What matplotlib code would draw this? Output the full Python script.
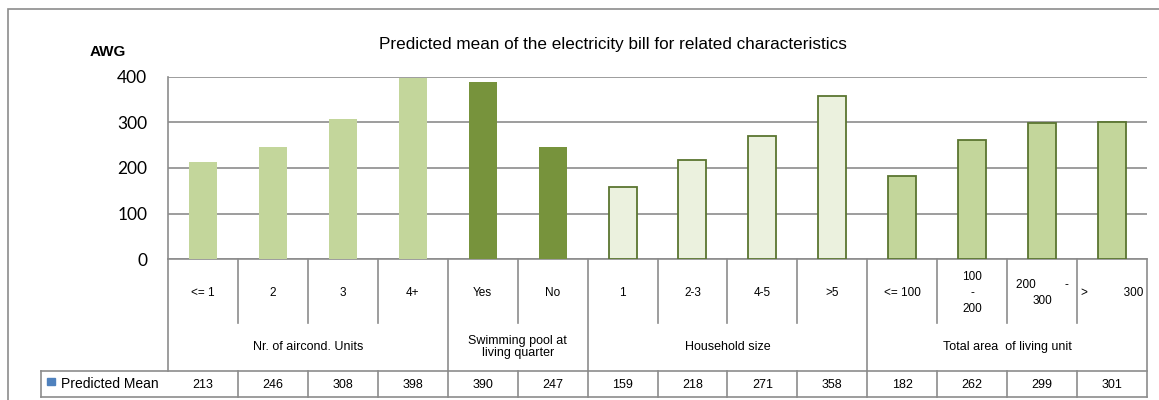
import numpy as np
import matplotlib.pyplot as plt
from matplotlib.transforms import blended_transform_factory
from matplotlib.patches import Rectangle

categories = ["<= 1", "2", "3", "4+", "Yes", "No", "1", "2-3", "4-5", ">5",
              "<= 100", "100\n-\n200", "200         -\n300", ">           300"]
predicted_mean = [213, 246, 308, 398, 390, 247, 159, 218, 271, 358, 182, 262, 299, 301]
groups = ["Nr. of aircond. Units", "Swimming pool at\nliving quarter",
          "Household size", "Total area  of living unit"]
group_sizes = [4, 2, 4, 4]
group_face = ["#C3D69B", "#77933C", "#EBF1DE", "#C3D69B"]
group_edge = ["none", "none", "#5A7530", "#5A7530"]

W, H = 1159, 400
fig = plt.figure(figsize=(W / 100, H / 100), dpi=100)
plt.rcParams['font.family'] = ['Liberation Sans', 'DejaVu Sans']

def fx(x):
    return x / W

def fy(y):
    return 1 - y / H

left, right, top, bottom = 168, 1147, 77, 259
ax = fig.add_axes([fx(left), fy(bottom), fx(right - left), (bottom - top) / H])

x = np.arange(len(categories))
faces, edges = [], []
for face, edge, n in zip(group_face, group_edge, group_sizes):
    faces += [face] * n
    edges += [edge] * n
ax.bar(x, predicted_mean, width=0.4, color=faces, edgecolor=edges, linewidth=1.3, zorder=3)

ax.set_xlim(-0.5, len(categories) - 0.5)
ax.set_ylim(0, 400)
ax.set_yticks([0, 100, 200, 300, 400])
ax.set_yticklabels(["0", "100", "200", "300", "400"], family=['Lato', 'DejaVu Sans'], fontsize=12.5)
ax.tick_params(axis='y', length=0, pad=15)
ax.set_xticks([])
ax.grid(axis='y', color='#8C8C8C', linewidth=1.2, zorder=0)
for s in ['top', 'right', 'bottom']:
    ax.spines[s].set_visible(False)
ax.spines['left'].set_color('#8C8C8C')
ax.spines['left'].set_linewidth(1.2)

ax.text(fx(108), fy(52), "AWG", transform=fig.transFigure, ha='center', va='center',
        fontsize=11, fontweight='bold')
fig.text(fx(613), fy(44), "Predicted mean of the electricity bill for related characteristics",
         ha='center', va='center', fontsize=12.3)

# outer frame
fig.add_artist(Rectangle((fx(8), fy(420)), fx(1170), (420 - 9) / H, transform=fig.transFigure,
                         fill=False, edgecolor='#8C8C8C', linewidth=1.2, clip_on=False))

# category table under the axis
tr = blended_transform_factory(ax.transData, fig.transFigure)
line = dict(color='#8C8C8C', linewidth=1.2, transform=tr, clip_on=False)
row1, row2, row3 = 323, 371, 397
lo, hi = -0.5, len(categories) - 0.5

ax.plot([lo, hi], [fy(bottom), fy(bottom)], **line)
ax.plot([lo, lo], [fy(bottom), fy(row2)], **line)
ax.plot([hi, hi], [fy(bottom), fy(row3)], **line)

bounds = np.cumsum(group_sizes)
for b in range(1, len(categories)):
    y_end = row2 if b in bounds else row1
    ax.plot([b - 0.5, b - 0.5], [fy(bottom), fy(y_end)], **line)
    ax.plot([b - 0.5, b - 0.5], [fy(row2), fy(row3)], **line)

for i, lab in enumerate(categories):
    ax.text(i, fy(293), lab, transform=tr, ha='center', va='center', fontsize=8.5,
            multialignment='center', linespacing=1.5)
    ax.text(i, fy(385), str(predicted_mean[i]), transform=tr, ha='center', va='center',
            fontsize=9)

start = 0
for name, n in zip(groups, group_sizes):
    ax.text(start + (n - 1) / 2, fy(347), name, transform=tr, ha='center', va='center',
            fontsize=9, linespacing=1.1)
    start += n

# data row with the legend cell
row_left = 41
fig.add_artist(plt.Line2D([fx(row_left), fx(right)], [fy(row2), fy(row2)], color='#8C8C8C', linewidth=1.2))
fig.add_artist(plt.Line2D([fx(row_left), fx(right)], [fy(row3), fy(row3)], color='#8C8C8C', linewidth=1.2))
fig.add_artist(plt.Line2D([fx(row_left), fx(row_left)], [fy(row2), fy(row3)], color='#8C8C8C', linewidth=1.2))
fig.add_artist(Rectangle((fx(47), fy(385)), fx(8), 7 / H, transform=fig.transFigure,
                         color='#4F81BD'))
fig.text(fx(61), fy(384), "Predicted Mean", ha='left', va='center', fontsize=10)

fig.savefig('out.png', dpi=100)
